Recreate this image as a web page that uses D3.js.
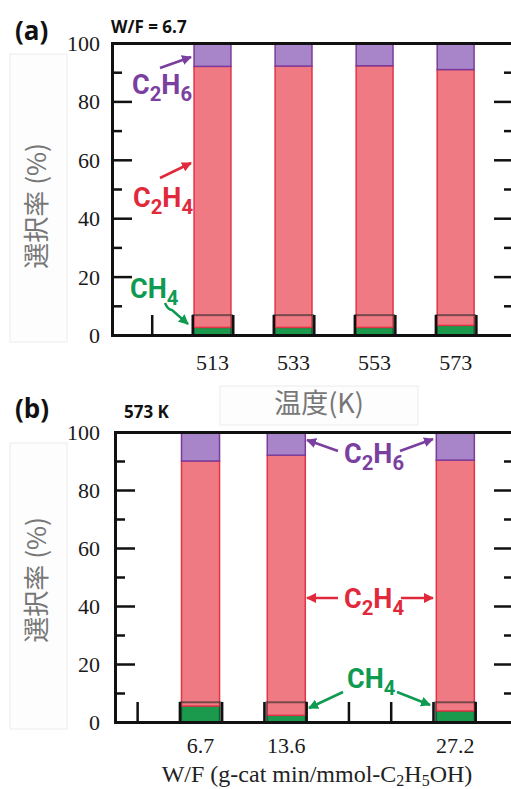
<!DOCTYPE html>
<html>
<head>
<meta charset="utf-8">
<script src="https://cdnjs.cloudflare.com/ajax/libs/d3/7.8.5/d3.min.js"></script>
<style>
  body { margin: 0; background: #fff; }
  .tick-lbl { font-family: "Liberation Serif", "DejaVu Serif", serif; font-size: 22px; fill: #1a1a1a; }
  .chem { font-family: "Liberation Sans Narrow", "Roboto", sans-serif; font-weight: 700; }
  .panel-tag { font-family: "Open Sans", sans-serif; font-weight: 700; fill: #111; }
</style>
</head>
<body>
<svg width="511" height="789"></svg>
<script>
  // panel (a): temperature series, W/F = 6.7
  const tempCats = [513, 533, 553, 573];
  const ch4A = [2.6, 2.6, 2.6, 3.3];
  const c2h4A = [89.4, 89.5, 89.6, 87.6];
  const c2h6A = [8.0, 7.9, 7.8, 9.1];
  const tempTicks = [498, 508, 518, 528, 538, 548, 558, 568, 578];

  // panel (b): W/F series, 573 K
  const wfCats = [6.7, 13.6, 27.2];
  const ch4B = [5.5, 2.3, 3.8];
  const c2h4B = [84.5, 89.7, 86.5];
  const c2h6B = [10.0, 8.0, 9.7];
  const wfTicks = [1.6, 5.0, 8.4, 11.8, 15.2, 18.6, 22.0, 25.4, 28.8];

  const yMajor = [0, 20, 40, 60, 80, 100];
  const yMinor = [10, 30, 50, 70, 90];

  const purple = '#7b3fa0', red = '#e02a3c', green = '#0f9a52';

  const svg = d3.select('svg');

  const defs = svg.append('defs');
  [['p', purple], ['r', red], ['g', green]].forEach(([id, c]) => {
    defs.append('marker')
      .attr('id', 'arr-' + id)
      .attr('viewBox', '0 0 10 10')
      .attr('refX', 9).attr('refY', 5)
      .attr('markerWidth', 4).attr('markerHeight', 4)
      .attr('orient', 'auto-start-reverse')
      .append('path').attr('d', 'M0,0 L10,5 L0,10 z').attr('fill', c);
  });

  function panel(opts) {
    const x = d3.scaleLinear().domain(opts.xDomain).range([opts.left, opts.right]);
    const y = d3.scaleLinear().domain([0, 100]).range([opts.bottom, opts.top]);
    const g = svg.append('g');
    const bw = x(opts.barW) - x(0);

    const rows = opts.cats.map((c, i) => ({
      c: c,
      segs: [
        { y0: 0, y1: opts.ch4[i], fill: '#1b9a4e', stroke: '#0b6b33' },
        { y0: opts.ch4[i], y1: opts.ch4[i] + opts.c2h4[i], fill: '#ef7a83', stroke: '#e03545' },
        { y0: opts.ch4[i] + opts.c2h4[i], y1: opts.ch4[i] + opts.c2h4[i] + opts.c2h6[i], fill: '#a885c9', stroke: '#7a3c9c' }
      ]
    }));

    // bars
    rows.forEach(r => {
      g.selectAll(null).data(r.segs).enter().append('rect')
        .attr('x', x(r.c) - bw / 2)
        .attr('width', bw)
        .attr('y', d => y(d.y1))
        .attr('height', d => y(d.y0) - y(d.y1))
        .attr('fill', d => d.fill)
        .attr('stroke', d => d.stroke)
        .attr('stroke-width', 1.5);
      // dark base box
      g.append('rect')
        .attr('x', x(r.c) - bw / 2 - 1)
        .attr('width', bw + 2)
        .attr('y', y(6.8))
        .attr('height', y(0) - y(6.8))
        .attr('fill', 'none')
        .attr('stroke', '#2a2a2a')
        .attr('stroke-opacity', 0.6)
        .attr('stroke-width', 2);
    });

    // left axis (inward ticks)
    const left = g.append('g').attr('transform', `translate(${opts.left},0)`);
    left.call(d3.axisRight(y).tickValues(yMajor).tickSize(20).tickFormat(''));
    left.append('g').call(d3.axisRight(y).tickValues(yMinor).tickSize(10).tickFormat(''));
    // right axis (inward ticks)
    const right = g.append('g').attr('transform', `translate(${opts.right},0)`);
    right.call(d3.axisLeft(y).tickValues(yMajor).tickSize(20).tickFormat(''));
    right.append('g').call(d3.axisLeft(y).tickValues(yMinor).tickSize(10).tickFormat(''));
    // bottom axis (inward ticks)
    const bottom = g.append('g').attr('transform', `translate(0,${opts.bottom})`);
    bottom.call(d3.axisTop(x).tickValues(opts.ticks).tickSize(20).tickFormat(''));
    // top line
    g.append('g').attr('transform', `translate(0,${opts.top})`)
      .call(d3.axisBottom(x).tickValues([]).tickSize(0));

    g.selectAll('.domain').attr('stroke', '#111').attr('stroke-width', 3);
    g.selectAll('.tick line').attr('stroke', '#111').attr('stroke-width', 2.5);

    // y tick labels
    g.selectAll(null).data(yMajor).enter().append('text')
      .attr('class', 'tick-lbl')
      .attr('x', opts.left - opts.lblGap)
      .attr('y', d => y(d) + 8)
      .attr('text-anchor', 'end')
      .text(d => d);

    // x tick labels
    g.selectAll(null).data(opts.cats).enter().append('text')
      .attr('class', 'tick-lbl')
      .attr('x', d => x(d))
      .attr('y', opts.xLblY)
      .attr('text-anchor', 'middle')
      .text(d => d);

    // y title in faint box
    g.append('rect')
      .attr('x', 10).attr('y', opts.top + 11)
      .attr('width', 57).attr('height', opts.bottom - opts.top - 4)
      .attr('fill', '#fdfdfd').attr('stroke', '#ececec');
    g.append('text')
      .attr('transform', `translate(46,${opts.yTitleC}) rotate(-90)`)
      .attr('text-anchor', 'middle')
      .attr('font-family', '"Noto Sans CJK JP", sans-serif')
      .attr('font-size', 26)
      .attr('fill', '#777')
      .text('選択率 (%)');

    return { x, y, g };
  }

  function chem(parts, px, py, color, size) {
    const t = svg.append('text').attr('class', 'chem')
      .attr('x', px).attr('y', py).attr('fill', color).attr('font-size', size);
    let sub = false;
    parts.forEach(p => {
      const isSub = /^[0-9]$/.test(p);
      const ts = t.append('tspan').text(p);
      if (isSub && !sub) { ts.attr('dy', size * 0.25).attr('font-size', size * 0.75); sub = true; }
      else if (!isSub && sub) { ts.attr('dy', -size * 0.25); sub = false; }
      else if (isSub) ts.attr('font-size', size * 0.75);
    });
    return t;
  }

  function arrow(x1, y1, x2, y2, color, id) {
    svg.append('line')
      .attr('x1', x1).attr('y1', y1).attr('x2', x2).attr('y2', y2)
      .attr('stroke', color).attr('stroke-width', 2.5)
      .attr('marker-end', `url(#arr-${id})`);
  }

  // ---------- panel (a)
  const pa = panel({
    cats: tempCats, ch4: ch4A, c2h4: c2h4A, c2h6: c2h6A, ticks: tempTicks,
    xDomain: [488.2, 587.4], left: 112, right: 514, top: 43, bottom: 335,
    barW: 9.1, lblGap: 12, xLblY: 370, yTitleC: 206
  });

  svg.append('text').attr('class', 'panel-tag').attr('x', 15).attr('y', 40)
    .attr('font-size', 26).text('(a)');
  svg.append('text').attr('class', 'panel-tag').attr('x', 111).attr('y', 33)
    .attr('font-size', 17).text('W/F = 6.7');

  svg.append('rect').attr('x', 220).attr('y', 386).attr('width', 198).attr('height', 39)
    .attr('fill', '#fdfdfd').attr('stroke', '#ececec');
  svg.append('text').attr('x', 319).attr('y', 413).attr('text-anchor', 'middle')
    .attr('font-family', '"Noto Sans CJK JP", sans-serif').attr('font-size', 27)
    .attr('fill', '#777').text('温度(K)');

  chem(['C', '2', 'H', '6'], 132, 94, purple, 27);
  arrow(160, 68, 191, 57, purple, 'p');
  chem(['C', '2', 'H', '4'], 133, 207, red, 27);
  arrow(160, 178, 191, 163, red, 'r');
  chem(['C', 'H', '4'], 130, 298, green, 27);
  svg.append('path').attr('d', 'M165,303 Q168,310 172,310 L188,324')
    .attr('fill', 'none').attr('stroke', green).attr('stroke-width', 2.5)
    .attr('marker-end', 'url(#arr-g)');

  // ---------- panel (b)
  const pb = panel({
    cats: wfCats, ch4: ch4B, c2h4: c2h4B, c2h6: c2h6B, ticks: wfTicks,
    xDomain: [-0.18, 31.92], left: 115, right: 514, top: 432, bottom: 722,
    barW: 3.06, lblGap: 15, xLblY: 753, yTitleC: 580
  });

  svg.append('text').attr('class', 'panel-tag').attr('x', 15).attr('y', 418)
    .attr('font-size', 26).text('(b)');
  svg.append('text').attr('class', 'panel-tag').attr('x', 124).attr('y', 418)
    .attr('font-size', 17).text('573 K');

  const xt = svg.append('text').attr('x', 317).attr('y', 782).attr('text-anchor', 'middle')
    .attr('font-family', '"Liberation Serif", serif').attr('font-size', 24).attr('fill', '#222');
  xt.append('tspan').text('W/F (g-cat min/mmol-C');
  xt.append('tspan').attr('dy', 4).attr('font-size', 16).text('2');
  xt.append('tspan').attr('dy', -4).text('H');
  xt.append('tspan').attr('dy', 4).attr('font-size', 16).text('5');
  xt.append('tspan').attr('dy', -4).text('OH)');

  chem(['C', '2', 'H', '6'], 344, 463, purple, 27);
  arrow(338, 451, 307, 440, purple, 'p');
  arrow(400, 451, 433, 439, purple, 'p');
  chem(['C', '2', 'H', '4'], 344, 608, red, 27);
  arrow(338, 598, 307, 598, red, 'r');
  arrow(401, 598, 433, 598, red, 'r');
  chem(['C', 'H', '4'], 347, 688, green, 27);
  arrow(343, 692, 309, 708, green, 'g');
  arrow(397, 692, 430, 705, green, 'g');
</script>
</body>
</html>
